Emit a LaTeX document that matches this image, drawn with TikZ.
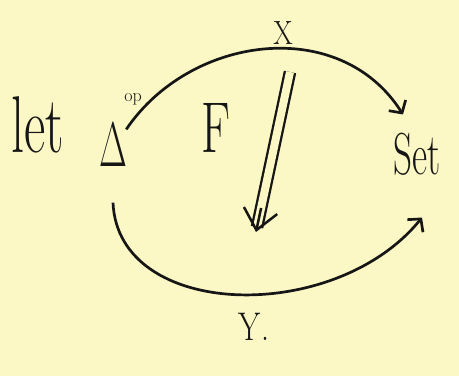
\documentclass[tikz,border=0pt]{standalone}
\usepackage{graphicx}
\usetikzlibrary{arrows.meta,positioning,calc}
\definecolor{paper}{RGB}{252,248,198}
\definecolor{ink}{RGB}{22,22,22}
\newcommand{\tallText}[2]{\scalebox{1}[#1]{#2}}

\begin{document}
\begin{tikzpicture}[
  x=1pt, y=-1pt,
  >={Straight Barb[length=9pt,width=20pt]},
  line width=2.7pt, draw=ink,
  every node/.style={text=ink, inner sep=1pt},
  cell/.style={double=paper, double distance=8pt, line width=2.3pt, shorten >=5pt},
  cellhead/.style={line width=2.5pt, -{Straight Barb[length=20pt,width=34pt]}}
]
  \fill[paper] (0,0) rectangle (459,376);
  \useasboundingbox (0,0) rectangle (459,376);

  % objects
  \node (let) at (38,125) {\fontsize{52}{52}\selectfont\tallText{1.55}{let}};
  \node (D) at (113,144) {\fontsize{36}{36}\selectfont\tallText{1.75}{Δ}};
  \node (op) at (133,99) {\fontsize{18}{18}\selectfont op};
  \node (S) at (417,154) {\fontsize{37}{37}\selectfont\tallText{1.6}{Set}};

  % labels
  \node (X) at (283,33) {\fontsize{28}{28}\selectfont\tallText{1.2}{X}};
  \node (Y) at (254,327) {\fontsize{32}{32}\selectfont\tallText{1.25}{Y.}};
  \node (F) at (216,128) {\fontsize{48}{48}\selectfont\tallText{1.5}{F}};

  % functors
  \draw[->] ([xshift=-3pt,yshift=-10pt]D.north east)
    .. controls (190,35) and (340,15) .. ([xshift=-14pt,yshift=16pt]S.north);
  \draw[->] ([xshift=0pt,yshift=-34pt]D.south)
    .. controls (118,320) and (335,325) .. ([xshift=5pt,yshift=-40pt]S.south);

  % natural transformation
  \coordinate (cellTop) at (290,72);
  \coordinate (cellBot) at (256,232);
  \draw[cell] (cellTop) -- (cellBot);
  \draw[cellhead] ($(cellTop)!0.85!(cellBot)$) -- (cellBot);
\end{tikzpicture}
\end{document}
